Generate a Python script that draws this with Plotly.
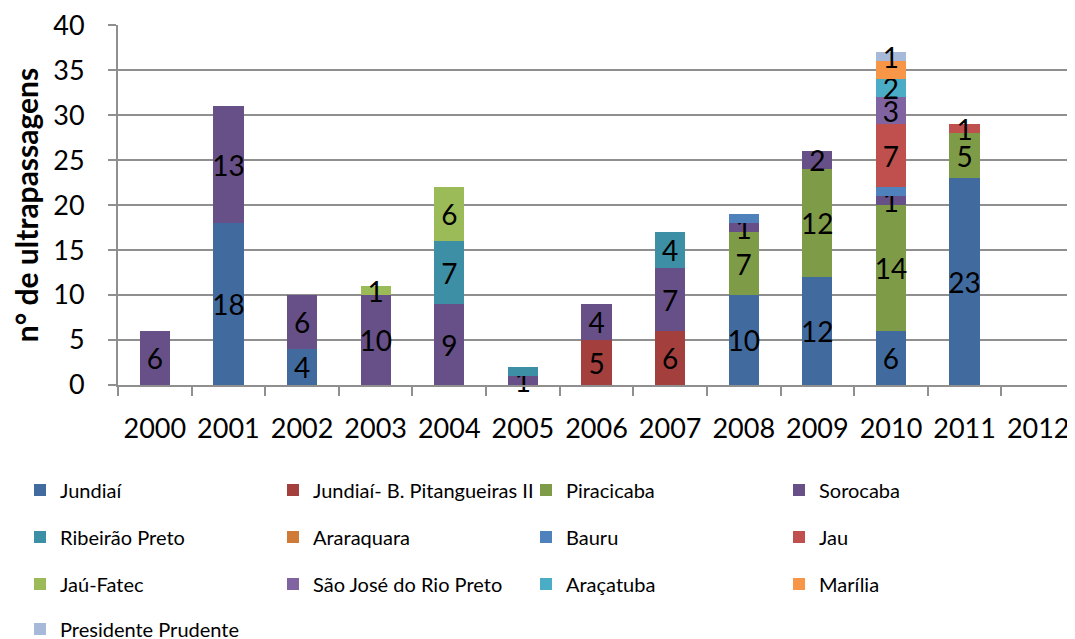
import plotly.graph_objects as go

years = ["2000", "2001", "2002", "2003", "2004", "2005", "2006",
         "2007", "2008", "2009", "2010", "2011", "2012"]

series_names = ["Jundiaí", "Jundiaí- B. Pitangueiras II", "Piracicaba", "Sorocaba",
                "Ribeirão Preto", "Araraquara", "Bauru", "Jau",
                "Jaú-Fatec", "São José do Rio Preto", "Araçatuba", "Marília",
                "Presidente Prudente"]

jundiai       = [0, 18, 4, 0, 0, 0, 0, 0, 10, 12, 6, 23, 0]
jundiai_bp2   = [0, 0, 0, 0, 0, 0, 5, 6, 0, 0, 0, 0, 0]
piracicaba    = [0, 0, 0, 0, 0, 0, 0, 0, 7, 12, 14, 5, 0]
sorocaba      = [6, 13, 6, 10, 9, 1, 4, 7, 1, 2, 1, 0, 0]
ribeirao      = [0, 0, 0, 0, 7, 1, 0, 4, 0, 0, 0, 0, 0]
araraquara    = [0, 0, 0, 0, 0, 0, 0, 0, 0, 0, 0, 0, 0]
bauru         = [0, 0, 0, 0, 0, 0, 0, 0, 1, 0, 1, 0, 0]
jau           = [0, 0, 0, 0, 0, 0, 0, 0, 0, 0, 7, 1, 0]
jau_fatec     = [0, 0, 0, 1, 6, 0, 0, 0, 0, 0, 0, 0, 0]
sjrp          = [0, 0, 0, 0, 0, 0, 0, 0, 0, 0, 3, 0, 0]
aracatuba     = [0, 0, 0, 0, 0, 0, 0, 0, 0, 0, 2, 0, 0]
marilia       = [0, 0, 0, 0, 0, 0, 0, 0, 0, 0, 2, 0, 0]
pres_prudente = [0, 0, 0, 0, 0, 0, 0, 0, 0, 0, 1, 0, 0]

series_values = [jundiai, jundiai_bp2, piracicaba, sorocaba, ribeirao, araraquara,
                 bauru, jau, jau_fatec, sjrp, aracatuba, marilia, pres_prudente]

# data labels not displayed in the original chart (overlapping)
hidden_labels = {("Ribeirão Preto", "2005"), ("Bauru", "2008"),
                 ("Bauru", "2010"), ("Marília", "2010")}

colors = ["#416A9F", "#A3403D", "#7E9B48", "#674F87", "#3D8FA5", "#CF7A36",
          "#4F81BD", "#C0504D", "#9BBB59", "#8064A2", "#4BACC6", "#F79646",
          "#A7B9D9"]

FONT = "Lato"
fig = go.Figure()

for i, (name, vals) in enumerate(zip(series_names, series_values)):
    yv = [v if v else None for v in vals]
    txt = ["" if (not v or (name, yr) in hidden_labels) else str(v)
           for v, yr in zip(vals, years)]
    fig.add_trace(go.Bar(
        x=years, y=yv, name=name, text=txt,
        textposition="inside", insidetextanchor="middle", textangle=0,
        constraintext="none", cliponaxis=False,
        textfont=dict(family=FONT, size=28, color="#000000"),
        marker=dict(color=colors[i], line=dict(width=0)),
        legend=["legend", "legend2", "legend3", "legend4"][i // 4],
    ))

# page body has an 8px default margin: figure is 8px smaller, plot area stays put
PAGE = 8
PL, PT, PH, PW = 118, 25, 360, 957  # plot area in window pixels
grid = "#8F8F8F"
fig.update_layout(
    width=1075 - PAGE, height=639 - PAGE,
    margin=dict(l=PL - PAGE, r=0, t=PT - PAGE, b=639 - PAGE - (PT - PAGE) - PH,
                autoexpand=False),
    barmode="stack", bargap=0.59,
    plot_bgcolor="white", paper_bgcolor="white",
    font=dict(family=FONT, color="#000000"),
    xaxis=dict(type="category", categoryorder="array", categoryarray=years,
               range=[-0.5, 12.5], showgrid=False, showline=True,
               linecolor=grid, linewidth=2, ticks="outside", tickson="boundaries",
               ticklen=9, tickwidth=2, tickcolor=grid, automargin=False,
               tickangle=0, ticklabeloverflow="allow",
               tickfont=dict(family=FONT, size=27, color="#000000"),
               ticklabelstandoff=19),
    yaxis=dict(range=[0, 40.02], tickvals=[0, 5, 10, 15, 20, 25, 30, 35, 40],
               showgrid=True, gridcolor=grid, gridwidth=2,
               showline=True, linecolor=grid, linewidth=2, zeroline=False,
               ticks="outside", ticklen=8, tickwidth=2, tickcolor=grid,
               automargin=False, ticklabeloverflow="allow",
               tickfont=dict(family=FONT, size=27, color="#000000"),
               ticklabelstandoff=18,
               title=dict(text="n° de ultrapassagens", standoff=20,
                          font=dict(family=FONT, size=30, color="#000000",
                                    weight="bold"))),
    showlegend=True,
)

row_y = [490, 537, 584, 629]
for k, ry in enumerate(row_y):
    key = "legend" if k == 0 else f"legend{k+1}"
    fig.update_layout(**{key: dict(
        orientation="h", x=(20 - PL) / PW, xanchor="left",
        y=(PT + PH - ry) / PH, yanchor="middle", traceorder="normal",
        entrywidth=208, entrywidthmode="pixels",
        font=dict(family=FONT, size=20, color="#000000"),
        bgcolor="rgba(0,0,0,0)", itemclick=False)})

fig.write_html("out.html")
